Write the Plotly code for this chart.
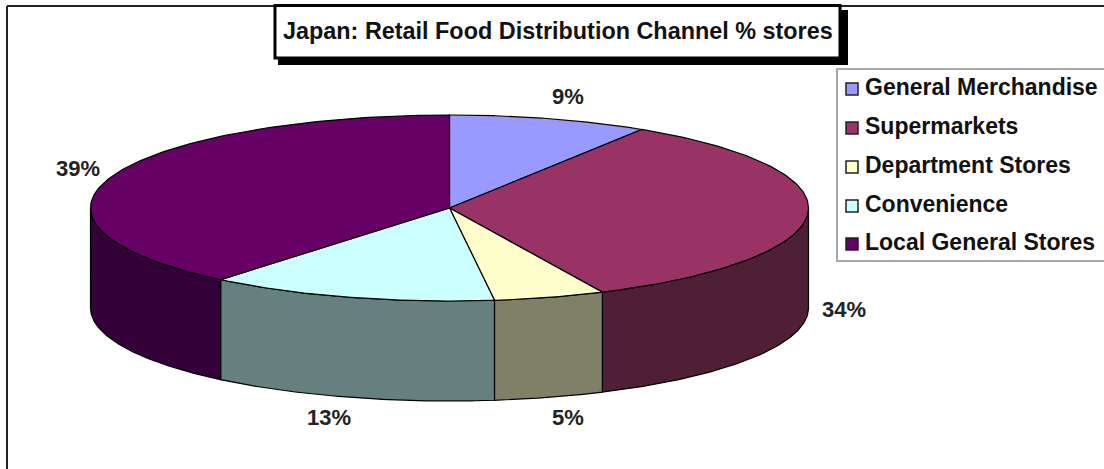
import numpy as np
import plotly.graph_objects as go

# Share of stores by retail channel (percent), clockwise from twelve o'clock
categories = ["General Merchandise", "Supermarkets", "Department Stores", "Convenience", "Local General Stores"]
shares = [9, 34, 5, 13, 39]
top_colors = ["#9999FF", "#993366", "#FFFFCC", "#CCFFFF", "#660066"]
side_colors = ["#5C5C99", "#4F1F36", "#808066", "#667F7F", "#33003A"]
label_pos = [(568, 96), (844, 309), (568, 417), (329, 417), (78, 168)]
title_text = "Japan: Retail Food Distribution Channel % stores"

# Projection of the tilted disc onto the page
CX, CY, RX, RY, DEPTH = 449.5, 208, 359, 93, 100
W, H = 1104, 469


def rim(start_pct, end_pct, n=120):
    t = np.radians(np.linspace(start_pct, end_pct, n) * 3.6)
    return CX + RX * np.sin(t), CY - RY * np.cos(t)


fig = go.Figure()


def poly(x, y, fill, line="#000000", width=1.2):
    fig.add_trace(go.Scatter(x=list(x), y=list(y), mode="lines", fill="toself", fillcolor=fill,
                             line=dict(color=line, width=width), hoverinfo="skip", showlegend=False))


edges = np.concatenate([[0], np.cumsum(shares)])

# Side wall first: only the front half of the rim (25%..75% of a turn) is visible
for i in range(len(shares)):
    a, b = max(edges[i], 25), min(edges[i + 1], 75)
    if a < b:
        x, y = rim(a, b)
        poly(np.r_[x, x[::-1], x[0]], np.r_[y, y[::-1] + DEPTH, y[0]], side_colors[i])

# Top face wedges
for i in range(len(shares)):
    x, y = rim(edges[i], edges[i + 1])
    poly(np.r_[CX, x, CX], np.r_[CY, y, CY], top_colors[i])

# Percentage labels
for s, (lx, ly) in zip(shares, label_pos):
    fig.add_annotation(x=lx, y=ly, text=f"<b>{s}%</b>", showarrow=False,
                       font=dict(family="Liberation Sans", size=22, color="#222222"))

shapes = [
    # Chart frame: top and left edges
    dict(type="line", x0=7, x1=1104, y0=6, y1=6, line=dict(color="#222222", width=2), layer="below"),
    dict(type="line", x0=7, x1=7, y0=6, y1=469, line=dict(color="#222222", width=2), layer="below"),
    # Title box with a hard drop shadow
    dict(type="rect", x0=278, x1=848, y0=10, y1=65, fillcolor="#000000", line=dict(width=0), layer="below"),
    dict(type="rect", x0=275, x1=840, y0=5.5, y1=58, fillcolor="#FFFFFF", line=dict(color="#000000", width=3), layer="below"),
    # Legend box
    dict(type="rect", x0=837, x1=1110, y0=69, y1=261, fillcolor="#FFFFFF", line=dict(color="#A8A8A8", width=2), layer="below"),
]

fig.add_annotation(x=558, y=31, text=f"<b>{title_text}</b>", showarrow=False,
                   font=dict(family="Liberation Sans", size=23.4, color="#111111"))

legend_y = [87, 126, 165, 204, 242]
for name, col, ly in zip(categories, top_colors, legend_y):
    shapes.append(dict(type="rect", x0=846, x1=858, y0=ly - 4, y1=ly + 8, fillcolor=col,
                       line=dict(color="#222222", width=1.5)))
    fig.add_annotation(x=863, y=ly, text=f"<b>{name}</b>", showarrow=False, xanchor="left",
                       font=dict(family="Liberation Sans", size=23, color="#111111"))

fig.update_layout(
    width=W, height=H, margin=dict(l=0, r=0, t=0, b=0),
    paper_bgcolor="#FFFFFF", plot_bgcolor="#FFFFFF", shapes=shapes, showlegend=False,
    xaxis=dict(range=[0, W], visible=False, fixedrange=True),
    yaxis=dict(range=[H, 0], visible=False, fixedrange=True),
)
fig.write_html("out.html", config={"displayModeBar": False})
